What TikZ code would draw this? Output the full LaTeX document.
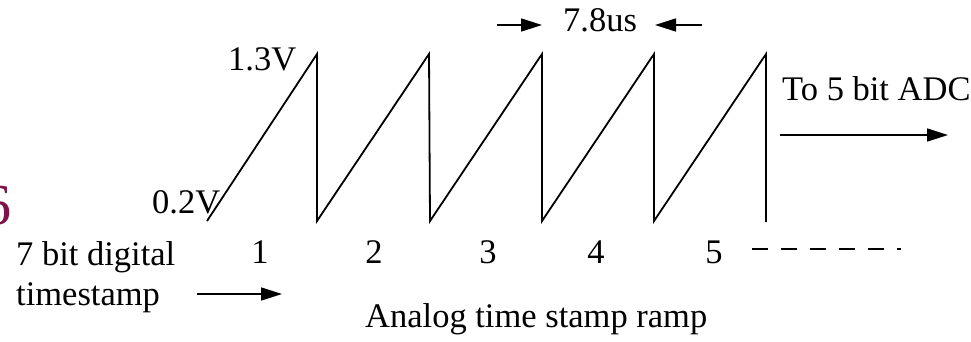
\documentclass[tikz,border=0pt]{standalone}
\usepackage{fontspec}
\setmainfont{Liberation Serif}
\usetikzlibrary{arrows.meta}
\definecolor{maroonsix}{RGB}{128,20,72}
\begin{document}
\begin{tikzpicture}[x=1pt,y=-1pt,
  lbl/.style={inner sep=0pt, font=\fontsize{34.5}{40}\selectfont},
  wire/.style={line width=1.8pt, line join=miter},
  arr/.style={line width=1.6pt, -{Triangle[length=21pt,width=13pt]}},
  dashline/.style={line width=1.6pt, dash pattern=on 16pt off 13pt},
]
\useasboundingbox (0,0) rectangle (971,341);
% ramp coordinates
\coordinate (r0) at (207,221);
\coordinate (p1) at (317,54);  \coordinate (b1) at (317,221);
\coordinate (p2) at (429,54);  \coordinate (b2) at (430,221);
\coordinate (p3) at (542,54);  \coordinate (b3) at (542,221);
\coordinate (p4) at (654,54);  \coordinate (b4) at (654,221);
\coordinate (p5) at (766,54);  \coordinate (b5) at (766,222);
\draw[wire] (r0) -- (p1) -- (b1) -- (p2) -- (b2) -- (p3) -- (b3) -- (p4) -- (b4) -- (p5) -- (b5);

% clipped maroon glyph at left edge
\node[anchor=base east, inner sep=0pt, text=maroonsix, font=\fontsize{58}{60}\selectfont] (six) at (12,224) {6};

% voltage labels
\node[lbl, anchor=base west] (v13) at (228,70) {1.3V};
\node[lbl, anchor=base west] (v02) at (152,213) {0.2V};

% period label
\node[lbl, anchor=base west] (per) at (563,31) {7.8us};
\coordinate (pl0) at (497,25); \coordinate (pl1) at (542,25);
\coordinate (pr0) at (702,25); \coordinate (pr1) at (655,25);
\draw[arr] (pl0) -- (pl1);
\draw[arr] (pr0) -- (pr1);

% ADC output
\node[lbl, anchor=base west] (adc) at (782,100) {To 5 bit ADC};
\coordinate (a0) at (780,135); \coordinate (a1) at (948,135);
\draw[arr] (a0) -- (a1);

% digital timestamp
\node[lbl, anchor=base west] (dig1) at (16,265) {7 bit digital};
\node[lbl, anchor=base west] (dig2) at (16,305) {timestamp};
\coordinate (t0) at (197,294); \coordinate (t1) at (282,294);
\draw[arr] (t0) -- (t1);

% counts
\node[lbl, anchor=base] (n1) at (260,263) {1};
\node[lbl, anchor=base] (n2) at (374,263) {2};
\node[lbl, anchor=base] (n3) at (488,263) {3};
\node[lbl, anchor=base] (n4) at (596,263) {4};
\node[lbl, anchor=base] (n5) at (714,263) {5};
\coordinate (d0) at (752,249); \coordinate (d1) at (901,249);
\draw[dashline] (d0) -- (d1);

% caption
\node[lbl, anchor=base west] (cap) at (365,327) {Analog time stamp ramp};
\end{tikzpicture}
\end{document}
